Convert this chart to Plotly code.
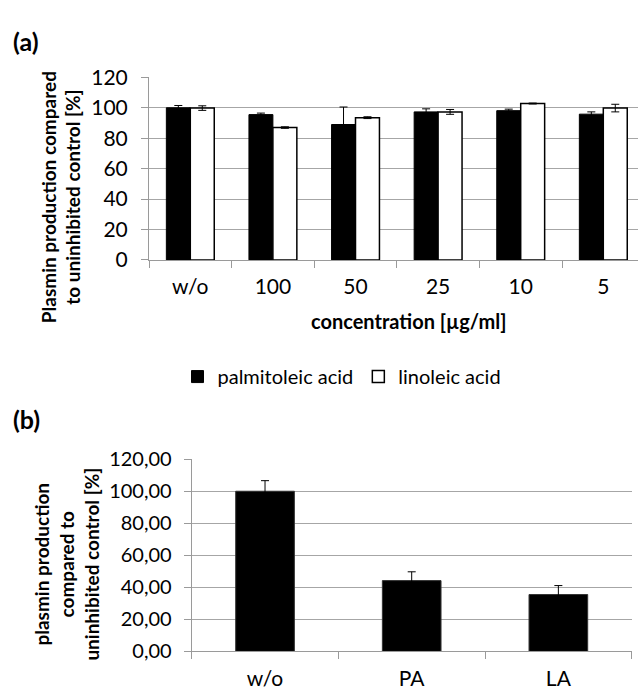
import plotly.graph_objects as go

# Panel (a) data
conc_labels = ["w/o", "100", "50", "25", "10", "5"]
palmitoleic = [100.0, 95.5, 89.0, 97.3, 98.1, 95.8]
palmitoleic_err = [1.5, 1.0, 11.5, 2.0, 1.0, 1.5]
linoleic = [99.8, 87.0, 93.5, 97.3, 102.8, 99.8]
linoleic_err = [1.5, 0.5, 0.6, 1.6, 0.3, 2.5]

# Panel (b) data
treat_labels = ["w/o", "PA", "LA"]
treat_vals = [100.0, 44.2, 35.5]
treat_err = [6.6, 5.5, 5.6]

W, H = 638, 700
FONT = "Lato, 'Open Sans', sans-serif"
GRID = "#a6a6a6"
AX = "#9a9a9a"

def px(x):
    return x / W

def py(y):
    return 1 - y / H

fig = go.Figure()

fig.add_trace(go.Bar(
    x=conc_labels, y=palmitoleic, name="palmitoleic acid",
    marker=dict(color="black", line=dict(color="black", width=1)),
    error_y=dict(type="data", array=palmitoleic_err, visible=True,
                 color="black", thickness=1, width=4),
    xaxis="x", yaxis="y",
))
fig.add_trace(go.Bar(
    x=conc_labels, y=linoleic, name="linoleic acid",
    marker=dict(color="white", line=dict(color="black", width=1.5)),
    error_y=dict(type="data", array=linoleic_err, visible=True,
                 color="black", thickness=1, width=4),
    xaxis="x", yaxis="y",
))
fig.add_trace(go.Bar(
    x=treat_labels, y=treat_vals, showlegend=False,
    marker=dict(color="black", line=dict(color="#333333", width=1)),
    error_y=dict(type="data", array=treat_err, visible=True,
                 color="black", thickness=1, width=4),
    width=0.4,
    xaxis="x2", yaxis="y2",
))

# panel geometry (pixels)
a_left, a_cat = 149, 82.6
a_top, a_bot = 65.7, 255
b_left, b_right = 191.7, 631.7
b_top, b_bot = 461.7, 661

common_y = dict(
    showgrid=True, gridcolor=GRID, gridwidth=1,
    showline=True, linecolor=AX, linewidth=1,
    ticks="outside", ticklen=7, tickcolor=AX,
    zeroline=False,
    tickfont=dict(family=FONT, size=21, color="black"),
)
common_x = dict(
    type="category", tickson="boundaries",
    showline=True, linecolor=AX, linewidth=1,
    ticks="outside", ticklen=7, tickcolor=AX,
    showgrid=False, zeroline=False,
    tickfont=dict(family=FONT, size=21, color="black"),
)

fig.update_layout(
    width=W, height=H,
    margin=dict(l=0, r=0, t=0, b=0),
    paper_bgcolor="white", plot_bgcolor="white",
    barmode="group", bargap=0.42, bargroupgap=0,
    font=dict(family=FONT, color="black"),
    showlegend=True,
    legend=dict(orientation="h", x=px(342), y=py(376), xanchor="center",
                yanchor="middle", font=dict(family=FONT, size=20, color="black"),
                itemwidth=30, traceorder="normal"),
    xaxis=dict(common_x, domain=[px(a_left), 1],
               range=[-0.5, -0.5 + (W - a_left) / a_cat], anchor="y",
               ticklabelstandoff=8),
    yaxis=dict(common_y, domain=[py(a_bot), py(a_top)], range=[0, 120],
               tickvals=[0, 20, 40, 60, 80, 100, 120], anchor="x",
               ticklabelstandoff=9),
    xaxis2=dict(common_x, domain=[px(b_left), px(b_right)], range=[-0.5, 2.5],
                anchor="y2", ticklabelstandoff=8),
    yaxis2=dict(common_y, domain=[py(b_bot), py(b_top)], range=[0, 120],
                tickvals=[0, 20, 40, 60, 80, 100, 120],
                ticktext=["0,00", "20,00", "40,00", "60,00", "80,00", "100,00", "120,00"],
                tickfont=dict(family=FONT, size=20, color="black"),
                anchor="x2", ticklabelstandoff=8),
)

ann = []
ann.append(dict(text="<b>(a)</b>", x=px(11), y=py(28), xanchor="left", yanchor="middle",
                font=dict(family=FONT, size=25, color="black")))
ann.append(dict(text="<b>(b)</b>", x=px(11), y=py(420), xanchor="left", yanchor="middle",
                font=dict(family=FONT, size=25, color="black")))
ann.append(dict(text="<b>Plasmin production compared<br>to uninhibited control [%]</b>",
                x=px(61), y=py(190), textangle=-90, xanchor="center", yanchor="middle",
                font=dict(family=FONT, size=19, color="black")))
ann.append(dict(text="<b>concentration [µg/ml]</b>", x=px(409), y=py(318),
                xanchor="center", yanchor="middle",
                font=dict(family=FONT, size=20, color="black")))
ann.append(dict(text="<b>plasmin production<br>compared to<br>uninhibited control [%]</b>",
                x=px(66), y=py(571), textangle=-90, xanchor="center", yanchor="middle",
                font=dict(family=FONT, size=19, color="black")))
for a in ann:
    a.update(xref="paper", yref="paper", showarrow=False)
fig.update_layout(annotations=ann)

fig.write_html("out.html")
